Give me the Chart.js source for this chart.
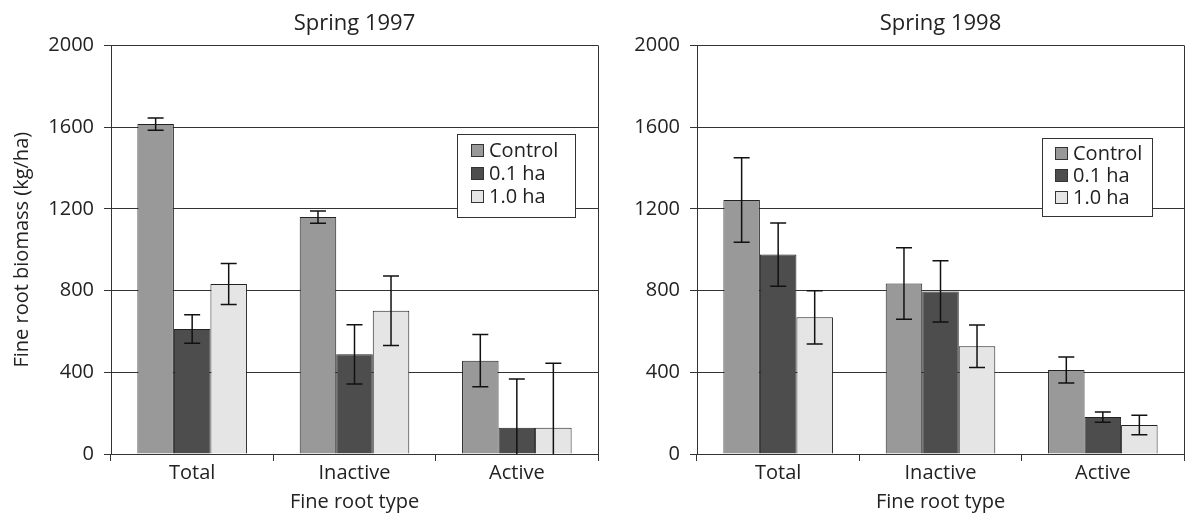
<!DOCTYPE html>
<html>
<head>
<meta charset="utf-8">
<script src="https://cdn.jsdelivr.net/npm/chart.js@4.4.1/dist/chart.umd.min.js"></script>
<style>
html, body { margin: 0; padding: 0; background: #fff; }
#wrap { position: relative; width: 1188px; height: 514px; }
.pane { position: absolute; top: 0; height: 514px; }
</style>
</head>
<body>
<div id="wrap">
<div class="pane" style="left:0;width:600px"><canvas id="chart97" width="600" height="514"></canvas></div>
<div class="pane" style="left:600px;width:588px"><canvas id="chart98" width="588" height="514"></canvas></div>
</div>
<script>
// categories and treatments
const rootTypes = ['Total', 'Inactive', 'Active'];
const treatments = ['Control', '0.1 ha', '1.0 ha'];
const yTicks = [0, 400, 800, 1200, 1600, 2000];

// Spring 1997 means and error half-widths (kg/ha)
const control97 = [1615, 1160, 457];
const controlErr97 = [30, 30, 128];
const small97 = [612, 488, 129];
const smallErr97 = [70, 145, 238];
const large97 = [832, 701, 129];
const largeErr97 = [100, 170, 315];

// Spring 1998
const control98 = [1243, 835, 411];
const controlErr98 = [207, 175, 64];
const small98 = [976, 796, 181];
const smallErr98 = [155, 150, 25];
const large98 = [669, 527, 142];
const largeErr98 = [130, 104, 48];

const barColors = ['#999999', '#4d4d4d', '#e5e5e5'];
const ink = '#222222';
const lineCol = '#333333';

Chart.defaults.font.family = "'Open Sans', sans-serif";
Chart.defaults.font.size = 20;
Chart.defaults.color = ink;

// draws the error whiskers from the y scale
const errorBars = {
id: 'errorBars',
afterDatasetsDraw(chart) {
var ctx = chart.ctx, y = chart.scales.y, area = chart.chartArea;
ctx.save();
ctx.beginPath();
ctx.rect(area.left, area.top, area.right - area.left, area.bottom - area.top + 1);
ctx.clip();
ctx.strokeStyle = '#111';
ctx.lineWidth = 1.5;
chart.data.datasets.forEach(function(ds, i) {
var meta = chart.getDatasetMeta(i);
meta.data.forEach(function(bar, j) {
var v = ds.data[j], e = ds.errors[j];
var x = bar.x;
var yHi = y.getPixelForValue(v + e);
var lowClipped = v - e < y.min;
var yLo = y.getPixelForValue(Math.max(v - e, y.min));
ctx.beginPath();
ctx.moveTo(x, yHi); ctx.lineTo(x, yLo);
ctx.moveTo(x - 8, yHi); ctx.lineTo(x + 8, yHi);
if (!lowClipped) { ctx.moveTo(x - 8, yLo); ctx.lineTo(x + 8, yLo); }
ctx.stroke();
});
});
ctx.restore();
}
};

// boxed legend inside the plot area
const boxLegend = {
id: 'boxLegend',
afterDraw(chart, args, opts) {
var ctx = chart.ctx, area = chart.chartArea;
var x0 = area.right - opts.right - opts.width;
var y0 = area.top + opts.top;
ctx.save();
ctx.fillStyle = '#fff';
ctx.fillRect(x0, y0, opts.width, opts.height);
ctx.strokeStyle = lineCol;
ctx.lineWidth = 1;
ctx.strokeRect(Math.round(x0) + 0.5, Math.round(y0) + 0.5, opts.width, opts.height);
ctx.font = "20px 'Open Sans', sans-serif";
ctx.textBaseline = 'middle';
chart.data.datasets.forEach(function(ds, i) {
var cy = y0 + opts.rowStart + i * opts.rowGap;
var sx = Math.round(x0 + opts.padX) + 0.5;
ctx.fillStyle = ds.backgroundColor;
ctx.fillRect(sx, Math.round(cy - 6) + 0.5, 12, 12);
ctx.strokeStyle = lineCol;
ctx.strokeRect(sx, Math.round(cy - 6) + 0.5, 12, 12);
ctx.fillStyle = ink;
ctx.fillText(ds.label, x0 + opts.padX + 18, cy + 1);
});
ctx.restore();
}
};

function makeChart(id, title, series, errs, yTitle, axisWidth, padRight, legendOpts) {
var datasets = treatments.map(function(t, i) {
return {
label: t,
data: series[i],
errors: errs[i],
backgroundColor: barColors[i],
borderColor: ink,
borderWidth: 1,
categoryPercentage: 0.675,
barPercentage: 1.0
};
});
return new Chart(document.getElementById(id), {
type: 'bar',
data: { labels: rootTypes, datasets: datasets },
plugins: [errorBars, boxLegend],
options: {
responsive: false,
animation: false,
layout: { padding: { left: 0, top: 0, right: padRight, bottom: 0 } },
plugins: {
legend: { display: false },
tooltip: { enabled: false },
title: { display: true, text: title, fullSize: false, color: ink, font: { size: 22, weight: 'normal' }, padding: { top: 11, bottom: 8 } },
boxLegend: legendOpts
},
scales: {
x: {
grid: {
color: function(c) { return c.tick ? 'rgba(0,0,0,0)' : lineCol; },
tickColor: lineCol,
tickLength: 7,
lineWidth: 1
},
border: { display: true, color: lineCol, width: 1 },
ticks: { color: ink, padding: 0, font: { size: 20 } },
title: { display: true, text: 'Fine root type', color: ink, font: { size: 20 }, padding: { top: 0, bottom: 0 } },
afterFit: function(s) { s.height = 60; }
},
y: {
min: 0,
max: 2000,
afterBuildTicks: function(s) { s.ticks = yTicks.map(function(v) { return { value: v }; }); },
grid: { color: lineCol, tickColor: lineCol, tickLength: 7, lineWidth: 1 },
border: { display: true, color: lineCol, width: 1 },
ticks: { color: ink, padding: 10, font: { size: 20 }, callback: function(v) { return String(v); } },
title: { display: !!yTitle, text: yTitle, color: ink, font: { size: 20 }, padding: { top: 10, bottom: 0 } },
afterFit: function(s) { s.width = axisWidth; }
}
}
}
});
}

makeChart('chart97', 'Spring 1997',
[control97, small97, large97], [controlErr97, smallErr97, largeErr97],
'Fine root biomass (kg/ha)', 111, 2,
{ right: 23, top: 89, width: 118, height: 83, padX: 14, rowStart: 16, rowGap: 23 });

makeChart('chart98', 'Spring 1998',
[control98, small98, large98], [controlErr98, smallErr98, largeErr98],
'', 97, 4,
{ right: 32, top: 93, width: 110, height: 78, padX: 13, rowStart: 15, rowGap: 22 });
</script>
</body>
</html>
